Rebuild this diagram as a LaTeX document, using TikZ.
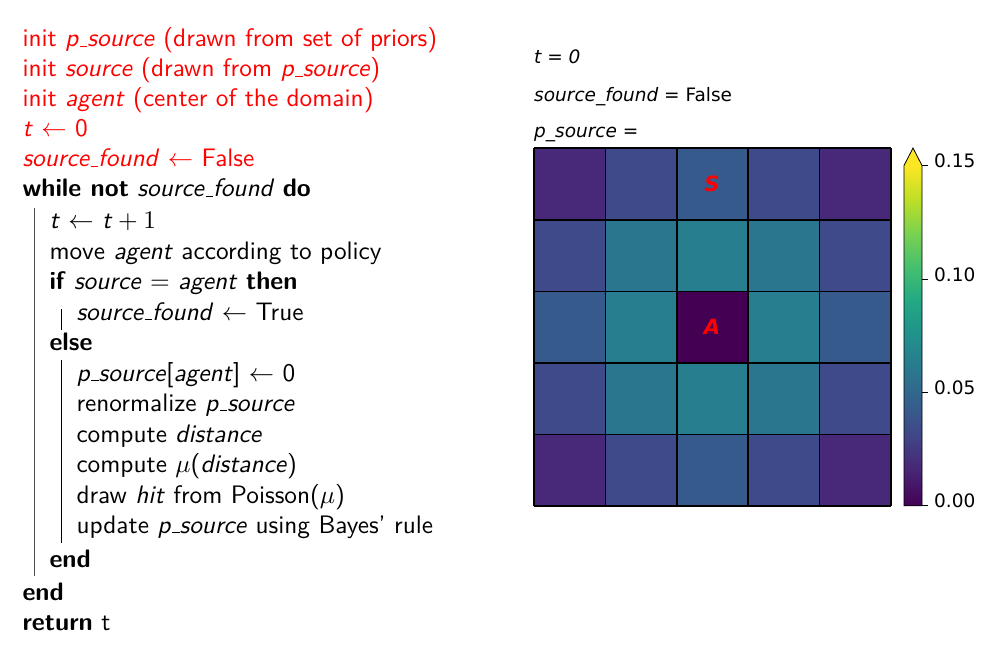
\documentclass[tikz,border=0pt]{standalone}
\usepackage{fontspec}
\newfontfamily\mpl{DejaVu Sans}
\newcommand\algus{\leavevmode\kern.06em\vbox{\hrule width.3em}}
\definecolor{v0}{HTML}{440154}
\definecolor{v1}{HTML}{482475}
\definecolor{v2}{HTML}{414487}
\definecolor{v3}{HTML}{355F8D}
\definecolor{v4}{HTML}{2A788E}
\definecolor{v5}{HTML}{21918C}
\definecolor{v6}{HTML}{22A884}
\definecolor{v7}{HTML}{44BF70}
\definecolor{v8}{HTML}{7AD151}
\definecolor{v9}{HTML}{BDDF26}
\definecolor{v10}{HTML}{FDE725}
\definecolor{cA}{HTML}{482878}
\definecolor{cB}{HTML}{3E4A89}
\definecolor{cC}{HTML}{375A8C}
\definecolor{cD}{HTML}{2A768E}
\definecolor{cE}{HTML}{277E8E}
\definecolor{cZ}{HTML}{440154}
\definecolor{algred}{HTML}{FF0000}
\pgfdeclareverticalshading{viridis}{100bp}{color(0bp)=(v0); color(25bp)=(v0); color(30bp)=(v1); color(35bp)=(v2); color(40bp)=(v3); color(45bp)=(v4); color(50bp)=(v5); color(55bp)=(v6); color(60bp)=(v7); color(65bp)=(v8); color(70bp)=(v9); color(75bp)=(v10); color(100bp)=(v10)}
\begin{document}
\begin{tikzpicture}[x=1pt,y=-1pt,
  alg/.style={anchor=base west, inner sep=0pt, font=\sffamily\fontsize{10}{12}\selectfont, scale=2.53, transform shape},
  algr/.style={alg, text=algred},
  mtext/.style={anchor=base west, inner sep=0pt, font=\fontsize{18.5}{22}\selectfont\mpl},
  outerbar/.style={draw=black!70, line width=1.4pt},
  innerbar/.style={draw=black, line width=1pt},
  cell/.style={draw=black, line width=1.6pt},
  celllabel/.style={font=\fontsize{21}{24}\selectfont\mpl\bfseries\itshape, text=algred, inner sep=0pt},
  cbtick/.style={draw=black, line width=0.8pt},
  cblabel/.style={anchor=mid west, inner sep=0pt, font=\fontsize{18.5}{22}\selectfont\mpl}
]
\useasboundingbox (0,0) rectangle (1008,660);
% algorithm
\node[algr] (l1) at (22,47) {init \textit{p\algus source} (drawn from set of priors)};
\node[algr] (l2) at (22,77) {init \textit{source} (drawn from \textit{p\algus source})};
\node[algr] (l3) at (22,107) {init \textit{agent} (center of the domain)};
\node[algr] (l4) at (22,137) {\textit{t} $\leftarrow$ 0};
\node[algr] (l5) at (22,167) {\textit{source\algus found} $\leftarrow$ False};
\node[alg] (l6) at (22,197) {\textbf{while not} \textit{source\algus found} \textbf{do}};
\node[alg] (l7) at (49,229) {\textit{t} $\leftarrow$ \textit{t}${}+1$};
\node[alg] (l8) at (49,259) {move \textit{agent} according to policy};
\node[alg] (l9) at (49,289) {\textbf{if} \textit{source} $=$ \textit{agent} \textbf{then}};
\node[alg] (l10) at (76,320) {\textit{source\algus found} $\leftarrow$ True};
\node[alg] (l11) at (49,350) {\textbf{else}};
\node[alg] (l12) at (76,381) {\textit{p\algus source}[\textit{agent}] $\leftarrow$ 0};
\node[alg] (l13) at (76,411) {renormalize \textit{p\algus source}};
\node[alg] (l14) at (76,442) {compute \textit{distance}};
\node[alg] (l15) at (76,472) {compute $\mu$(\textit{distance})};
\node[alg] (l16) at (76,503) {draw \textit{hit} from Poisson($\mu$)};
\node[alg] (l17) at (76,533) {update \textit{p\algus source} using Bayes' rule};
\node[alg] (l18) at (49,567) {\textbf{end}};
\node[alg] (l19) at (22,600) {\textbf{end}};
\node[alg] (l20) at (22,630) {\textbf{return} t};
\draw[outerbar] (34.7,208) -- (34.7,576);
\draw[innerbar] (61.7,309) -- (61.7,330);
\draw[innerbar] (61.7,360) -- (61.7,543);
% right panel texts
\node[mtext] (tlab) at (534,64) {\itshape t = 0};
\node[mtext] (sflab) at (534,102) {\itshape source\_found = \upshape False};
\node[mtext] (pslab) at (534,138) {\itshape p\_source =};
% grid
\foreach \row/\cols in {0/{cA,cB,cC,cB,cA},1/{cB,cD,cE,cD,cB},2/{cC,cE,cZ,cE,cC},3/{cB,cD,cE,cD,cB},4/{cA,cB,cC,cB,cA}}{
  \foreach \col [count=\c from 0] in \cols {
    \fill[\col] ({534+71.4*\c},{148.3+71.5*\row}) rectangle ++(71.4,71.5);
  }
}
\foreach \k in {0,...,5}{
  \draw[cell] ({534+71.4*\k},148.3) -- ({534+71.4*\k},505.8);
  \draw[cell] (534,{148.3+71.5*\k}) -- (891,{148.3+71.5*\k});
}
\node[celllabel] (S) at (712,184) {S};
\node[celllabel] (A) at (712,327) {A};
% colorbar
\shade[shading=viridis] (904,165.5) rectangle (922,505.8);
\fill[v10] (904,165.5) -- (913,148) -- (922,165.5) -- cycle;
\draw[line width=0.8pt] (904,505.8) -- (904,165.5) -- (913,148) -- (922,165.5) -- (922,505.8) -- cycle;
\foreach \yy/\lab [count=\i] in {505.8/0.00,392.4/0.05,278.9/0.10,165.5/0.15}{
  \coordinate (t\i) at (922,\yy);
  \draw[cbtick] (t\i) -- ++(6,0) coordinate (te\i);
  \node[cblabel] (tl\i) at ([xshift=6pt]te\i) {\lab};
}
\end{tikzpicture}
\end{document}
